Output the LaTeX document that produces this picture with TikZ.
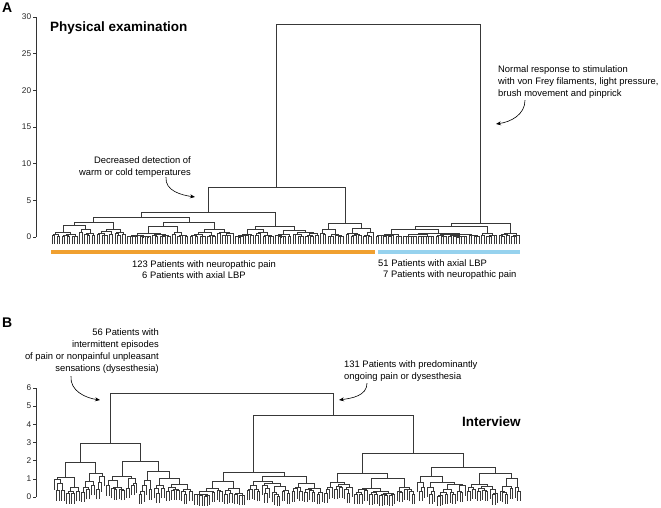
\documentclass[tikz,border=0pt]{standalone}
\usepackage{fontspec}
\setmainfont{Liberation Sans}
\usetikzlibrary{arrows.meta}

\definecolor{orangebar}{RGB}{240,160,48}
\definecolor{bluebar}{RGB}{150,210,238}

\newcommand\dtree[3]{%
  \begingroup
  \ifnum#1<#2\relax
    \pgfmathtruncatemacro\dsplit{#1+floor((#2-#1)*(0.2+0.6*rnd))}%
    \pgfmathtruncatemacro\dnext{\dsplit+1}%
    \pgfmathsetmacro\dhl{#3*\dfac}%
    \pgfmathsetmacro\dhr{#3*\dfac}%
    \ifnum#1=\dsplit\relax\pgfmathsetmacro\dhl{\dleaf{#3}}\fi
    \ifnum\dnext=#2\relax\pgfmathsetmacro\dhr{\dleaf{#3}}\fi
    \edef\dcall{\noexpand\dtree{#1}{\dsplit}{\dhl}}\dcall
    \let\dxl\dret
    \edef\dcall{\noexpand\dtree{\dnext}{#2}{\dhr}}\dcall
    \let\dxr\dret
    \draw[dend] (\dxl,\dhl) |- (\dxr,#3) -- (\dxr,\dhr);
    \pgfmathsetmacro\dmid{(\dxl+\dxr)/2}%
  \else
    \pgfmathsetmacro\dmid{\dxo+\dstep*#1}%
  \fi
  \xdef\dret{\dmid}%
  \endgroup}

\newcommand\djoin[5]{%
  \draw[dend] (#1,#2) |- (#3,#5) -- (#3,#4);
  \pgfmathsetmacro\dmid{(#1+#3)/2}\global\let\dret\dmid}

\begin{document}
\begin{tikzpicture}[x=1pt, y=-1pt,
  dend/.style={draw=black!78, line width=0.55pt},
  axis/.style={draw=black!80, line width=0.6pt},
  tick/.style={font=\fontsize{8.3}{9}\selectfont, text=black!85, inner sep=1.5pt, anchor=east},
  note/.style={font=\fontsize{9.4}{12}\selectfont, inner sep=0pt},
  title/.style={font=\fontsize{13.5}{15}\selectfont\bfseries, inner sep=0pt},
  panel/.style={font=\fontsize{14}{16}\selectfont\bfseries, inner sep=0pt},
  pointer/.style={-{Stealth[length=5pt,width=4pt]}, line width=0.6pt}]
\useasboundingbox (0,0) rectangle (661,508);

\node[panel, anchor=base west] (lblA) at (2,13) {A};
\node[title, anchor=base west] (physA) at (50,32) {Physical examination};

\begin{scope}[x=1pt, y=7.333pt, shift={(0pt,-237pt)}]
  \def\dxo{52}\def\dstep{2.511}
  \def\dfac{(0.35+0.5*rnd)}\def\dleaf#1{-1.0}
  \pgfmathsetseed{11}
  \draw[axis] (36,0) -- (36,30);
  \foreach \v in {0,5,...,30}
    \draw[axis] (36,\v) -- (33,\v) node[tick] (tA\v) {\v};
  \dtree{0}{29}{2.0}\let\xOa\dret
  \dtree{30}{72}{2.0}\let\xOb\dret
  \djoin{\xOa}{2.0}{\xOb}{2.0}{2.7}\let\xOab\dret
  \dtree{73}{106}{1.4}\let\xOc\dret
  \djoin{\xOab}{2.7}{\xOc}{1.4}{3.4}\let\xOabc\dret
  \dtree{107}{116}{1.0}\let\xOd\dret
  \dtree{117}{128}{1.2}\let\xOe\dret
  \djoin{\xOd}{1.0}{\xOe}{1.2}{1.9}\let\xOde\dret
  \djoin{\xOabc}{3.4}{\xOde}{1.9}{6.8}\let\xOrange\dret
  \dtree{129}{170}{1.1}\let\xBa\dret
  \dtree{171}{177}{0.5}\let\xBb\dret
  \djoin{\xBa}{1.1}{\xBb}{0.5}{1.5}\let\xBab\dret
  \dtree{178}{186}{0.55}\let\xBc\dret
  \djoin{\xBab}{1.5}{\xBc}{0.55}{1.9}\let\xBlue\dret
  \djoin{\xOrange}{6.8}{\xBlue}{1.9}{29.05}
\end{scope}

\fill[orangebar] (51,249.5) rectangle (375,253.5);
\fill[bluebar] (377.5,249.5) rectangle (520,253.5);
\node[note, anchor=base west] (neuA) at (132,267) {123 Patients with neuropathic pain};
\node[note, anchor=base west] (axA) at (142,278) {6 Patients with axial LBP};
\node[note, anchor=base west] (axB) at (378,266) {51 Patients with axial LBP};
\node[note, anchor=base west] (neuB) at (383,277) {7 Patients with neuropathic pain};

\node[note, anchor=north east, align=right] (decA) at (191,156) {Decreased detection of\\warm or cold temperatures};
\coordinate (decTip) at (195,197);
\draw[pointer] ([xshift=-25pt]decA.south east) to[out=-95,in=172] (decTip);

\node[note, anchor=north west, align=left] (normA) at (498,65) {Normal response to stimulation\\with von Frey filaments, light pressure,\\brush movement and pinprick};
\coordinate (normTip) at (496,124);
\draw[pointer] ([xshift=27pt,yshift=-2pt]normA.south west) to[out=-90,in=8] (normTip);

\node[panel, anchor=base west] (lblB) at (2,327) {B};
\node[title, anchor=base west] (intB) at (462,426) {Interview};

\begin{scope}[x=1pt, y=18.17pt, shift={(0pt,-497pt)}]
  \def\dxo{54}\def\dstep{2.505}
  \def\dfac{(0.45+0.45*rnd)}\def\dleaf#1{#1-0.55}
  \pgfmathsetseed{5}
  \draw[axis] (36,0) -- (36,6);
  \foreach \v in {0,...,6}
    \draw[axis] (36,\v) -- (33,\v) node[tick] (tB\v) {\v};
  \dtree{0}{10}{1.1}\let\xLa\dret
  \dtree{11}{20}{1.3}\let\xLb\dret
  \djoin{\xLa}{1.1}{\xLb}{1.3}{1.93}\let\xLab\dret
  \dtree{21}{33}{1.15}\let\xLc\dret
  \dtree{34}{39}{0.9}\let\xLd\dret
  \dtree{40}{55}{1.05}\let\xLe\dret
  \djoin{\xLd}{0.9}{\xLe}{1.05}{1.43}\let\xLde\dret
  \djoin{\xLc}{1.15}{\xLde}{1.43}{1.98}\let\xLcd\dret
  \djoin{\xLab}{1.93}{\xLcd}{1.98}{2.97}\let\xLeft\dret
  \dtree{56}{76}{0.88}\let\xRa\dret
  \dtree{77}{107}{1.15}\let\xRb\dret
  \djoin{\xRa}{0.88}{\xRb}{1.15}{1.38}\let\xRab\dret
  \dtree{108}{119}{0.83}\let\xRc\dret
  \dtree{120}{144}{1.05}\let\xRd\dret
  \djoin{\xRc}{0.83}{\xRd}{1.05}{1.32}\let\xRcd\dret
  \dtree{145}{164}{1.15}\let\xRe\dret
  \dtree{165}{186}{1.3}\let\xRf\dret
  \djoin{\xRe}{1.15}{\xRf}{1.3}{1.65}\let\xRef\dret
  \djoin{\xRcd}{1.32}{\xRef}{1.65}{2.42}\let\xRcf\dret
  \djoin{\xRab}{1.38}{\xRcf}{2.42}{4.5}\let\xRight\dret
  \djoin{\xLeft}{2.97}{\xRight}{4.5}{5.72}
\end{scope}

\node[note, anchor=north east, align=right] (epiB) at (159,328) {56 Patients with\\intermittent episodes\\of pain or nonpainful unpleasant\\sensations (dysesthesia)};
\coordinate (epiTip) at (100,400);
\draw[pointer] ([xshift=-88pt,yshift=-3pt]epiB.south east) to[out=-95,in=172] (epiTip);

\node[note, anchor=north west, align=left] (ongB) at (344,360) {131 Patients with predominantly\\ongoing pain or dysesthesia};
\coordinate (ongTip) at (339,400);
\draw[pointer] ([xshift=23pt,yshift=-2pt]ongB.south west) to[out=-90,in=8] (ongTip);
\end{tikzpicture}
\end{document}
